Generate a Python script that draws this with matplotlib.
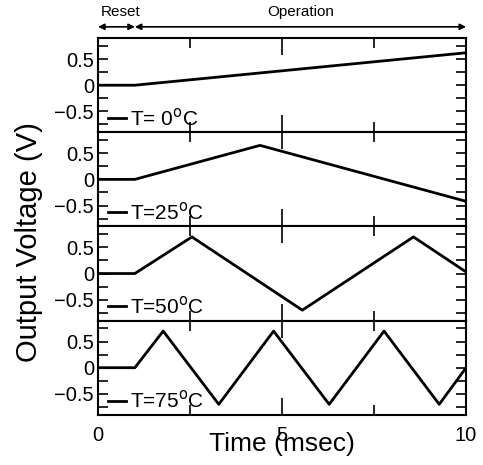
import numpy as np
import matplotlib
matplotlib.use("Agg")
import matplotlib.pyplot as plt
from matplotlib.ticker import MultipleLocator

plt.rcParams['font.family'] = ['Liberation Sans', 'DejaVu Sans']

# waveform corner points (time in msec, output in V)
temps = ["0", "25", "50", "75"]
t_0 = [0, 1, 10]
v_0 = [0, 0, 0.62]
t_25 = [0, 1, 4.4, 10]
v_25 = [0, 0, 0.65, -0.42]
t_50 = [0, 1, 2.55, 5.55, 8.57, 10]
v_50 = [0, 0, 0.70, -0.70, 0.70, 0.03]
t_75 = [0, 1, 1.77, 3.28, 4.77, 6.28, 7.77, 9.27, 10]
v_75 = [0, 0, 0.70, -0.70, 0.70, -0.70, 0.70, -0.70, 0.0]

times = [t_0, t_25, t_50, t_75]
volts = [v_0, v_25, v_50, v_75]
temp_labels = ["T= 0$^{\\rm o}$C", "T=25$^{\\rm o}$C", "T=50$^{\\rm o}$C", "T=75$^{\\rm o}$C"]


def style_axis(ax):
    ax.set_xlim(0, 10)
    ax.set_ylim(-0.9, 0.9)
    ax.xaxis.set_major_locator(MultipleLocator(5))
    ax.xaxis.set_minor_locator(MultipleLocator(2.5))
    ax.yaxis.set_major_locator(MultipleLocator(0.5))
    ax.yaxis.set_minor_locator(MultipleLocator(0.25))
    ax.tick_params(which='both', direction='in', top=True, right=True, width=1.2)
    ax.tick_params(axis='x', which='major', length=12)
    ax.tick_params(axis='x', which='minor', length=7)
    ax.tick_params(axis='y', which='both', length=7, pad=3)
    ax.tick_params(labelsize=14.5)
    ax.set_yticks([-0.5, 0, 0.5])
    ax.set_yticklabels(["\u22120.5", "0", "0.5"])
    for sp in ax.spines.values():
        sp.set_linewidth(1.5)


def main():
    fig, axes = plt.subplots(4, 1, sharex=True, figsize=(4.83, 4.65), dpi=100)
    fig.subplots_adjust(left=0.203, right=0.965, top=0.918, bottom=0.108, hspace=0)

    for ax, t, v, lab in zip(axes, times, volts, temp_labels):
        ax.plot(t, v, color='black', linewidth=2)
        style_axis(ax)
        ax.plot([0.027, 0.076], [0.15, 0.15], color='black', linewidth=2,
                transform=ax.transAxes, clip_on=False)
        ax.text(0.087, 0.15, lab, transform=ax.transAxes, fontsize=15,
                va='center', ha='left')

    axes[-1].set_xticks([0, 5, 10])
    axes[-1].set_xticklabels(["0", "5", "10"])
    axes[-1].tick_params(axis='x', pad=8)
    axes[-1].set_xlabel("Time (msec)", fontsize=19, labelpad=-9)
    fig.text(0.061, 0.48, "Output Voltage (V)", rotation=90, fontsize=21,
             ha='center', va='center')

    # Reset / Operation arrows above the top panel
    top = axes[0]
    arrow = dict(arrowstyle='<|-|>', color='black', linewidth=1.2,
                 mutation_scale=9, shrinkA=0, shrinkB=0)
    top.annotate("", xy=(0, 1.12), xytext=(1, 1.12), xycoords=('data', 'axes fraction'),
                 textcoords=('data', 'axes fraction'), arrowprops=arrow, annotation_clip=False)
    top.annotate("", xy=(1, 1.12), xytext=(10, 1.12), xycoords=('data', 'axes fraction'),
                 textcoords=('data', 'axes fraction'), arrowprops=arrow, annotation_clip=False)
    top.text(0.6, 1.28, "Reset", transform=top.get_xaxis_transform(), fontsize=11,
             ha='center', va='center')
    top.text(5.5, 1.28, "Operation", transform=top.get_xaxis_transform(), fontsize=11,
             ha='center', va='center')

    plt.savefig("out.png", dpi=100)


if __name__ == "__main__":
    main()
